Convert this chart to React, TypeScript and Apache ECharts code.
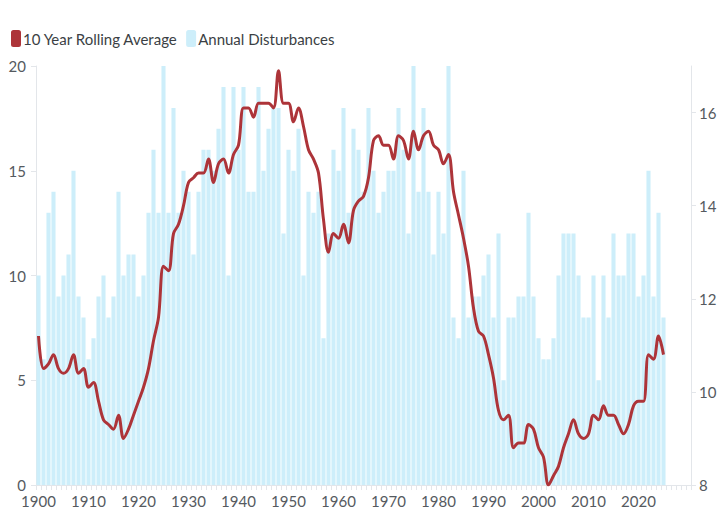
import React, { useEffect, useRef } from "react";
import * as echarts from "echarts";

const startYear = 1900;
const endYear = 2030;
const years: string[] = Array.from({ length: endYear - startYear + 1 }, (_, i) => String(startYear + i));
const lastLabelledYear = "2020";

// Annual Disturbances, 1900–2025
const annualDisturbances: number[] = [
  10, 6, 13, 14, 9, 10, 11, 15, 9, 8,
  6, 7, 9, 10, 8, 9, 14, 10, 11, 11,
  9, 10, 13, 16, 13, 20, 13, 18, 13, 15,
  14, 11, 14, 16, 16, 15, 17, 19, 10, 19,
  16, 19, 14, 14, 19, 15, 17, 18, 18, 12,
  16, 15, 17, 10, 14, 13, 14, 7, 12, 16,
  15, 18, 13, 17, 16, 14, 18, 15, 13, 14,
  15, 15, 18, 16, 12, 20, 14, 18, 14, 11,
  14, 12, 20, 8, 7, 15, 8, 9, 9, 10,
  11, 8, 12, 5, 8, 8, 9, 9, 13, 9,
  7, 6, 6, 7, 10, 12, 12, 12, 10, 8,
  8, 10, 5, 10, 8, 12, 10, 10, 12, 12,
  9, 10, 15, 9, 13, 8,
];

// 10 Year Rolling Average, 1900–2025 (right axis)
const rollingAverage: number[] = [
  11.2, 10.5, 10.6, 10.8, 10.5, 10.4, 10.5, 10.8, 10.4, 10.5,
  10.1, 10.2, 9.8, 9.4, 9.3, 9.2, 9.5, 9.0, 9.2, 9.5,
  9.8, 10.1, 10.5, 11.1, 11.6, 12.7, 12.6, 13.4, 13.6, 14.0,
  14.5, 14.6, 14.7, 14.7, 15.0, 14.5, 14.9, 15.0, 14.7, 15.1,
  15.3, 16.1, 16.1, 15.9, 16.2, 16.2, 16.2, 16.1, 16.9, 16.2,
  16.2, 15.8, 16.1, 15.7, 15.2, 15.0, 14.7, 13.7, 13.0, 13.4,
  13.3, 13.6, 13.2, 13.9, 14.1, 14.2, 14.6, 15.4, 15.5, 15.3,
  15.3, 15.0, 15.5, 15.4, 15.0, 15.6, 15.2, 15.5, 15.6, 15.3,
  15.2, 14.9, 15.1, 14.3, 13.8, 13.3, 12.7, 11.8, 11.3, 11.2,
  10.8, 10.3, 9.6, 9.4, 9.5, 8.8, 8.9, 8.9, 9.3, 9.2,
  8.8, 8.6, 8.0, 8.2, 8.4, 8.8, 9.1, 9.4, 9.1, 9.0,
  9.1, 9.5, 9.4, 9.7, 9.5, 9.5, 9.3, 9.1, 9.3, 9.7,
  9.8, 9.8, 10.8, 10.7, 11.2, 10.8,
];

const leftTicks = { min: 0, max: 20, interval: 5 };
const rightTicks = { min: 8, max: 17, interval: 2 };

export default function App() {
  const ref = useRef<HTMLDivElement>(null);

  useEffect(() => {
    document.body.style.margin = "0";
    if (!ref.current) return;
    const chart = echarts.init(ref.current, undefined, { renderer: "svg" });
    const font = "Lato, 'Noto Sans', sans-serif";
    const axisGrey = "#e3e6ea";
    const labelColor = "#555a60";
    chart.setOption({
      animation: false,
      textStyle: { fontFamily: font },
      legend: {
        left: 6,
        top: 25,
        itemWidth: 10,
        itemHeight: 17,
        itemGap: 8,
        icon: "roundRect",
        textStyle: { fontSize: 15, color: "#3b3f44", fontFamily: font, padding: [0, 0, 0, -3] },
        data: ["10 Year Rolling Average", "Annual Disturbances"],
      },
      grid: { left: 36, right: 37, top: 66, bottom: 45 },
      xAxis: {
        type: "category",
        data: years,
        boundaryGap: true,
        axisLine: { show: true, lineStyle: { color: axisGrey } },
        axisTick: { show: true, interval: 0, length: 5, lineStyle: { color: axisGrey } },
        axisLabel: {
          interval: (index: number, value: string) => index % 10 === 0 && Number(value) <= Number(lastLabelledYear),
          color: labelColor,
          fontSize: 15,
          margin: 8,
          fontFamily: font,
        },
        splitLine: { show: false },
      },
      yAxis: [
        {
          type: "value",
          min: leftTicks.min,
          max: leftTicks.max,
          interval: leftTicks.interval,
          axisLine: { show: true, lineStyle: { color: axisGrey } },
          axisTick: { show: true, length: 5, lineStyle: { color: axisGrey } },
          axisLabel: { color: labelColor, fontSize: 15, margin: 10, fontFamily: font },
          splitLine: { show: false },
        },
        {
          type: "value",
          min: rightTicks.min,
          max: rightTicks.max,
          interval: rightTicks.interval,
          position: "right",
          axisLine: { show: true, lineStyle: { color: axisGrey } },
          axisTick: { show: true, length: 5, lineStyle: { color: axisGrey } },
          axisLabel: { color: labelColor, fontSize: 15, margin: 8, showMaxLabel: false, fontFamily: font },
          splitLine: { show: false },
        },
      ],
      series: [
        {
          name: "Annual Disturbances",
          type: "bar",
          data: annualDisturbances,
          yAxisIndex: 0,
          barCategoryGap: "18%",
          itemStyle: { color: "#cdeefa" },
          z: 1,
        },
        {
          name: "10 Year Rolling Average",
          type: "line",
          data: rollingAverage,
          yAxisIndex: 1,
          smooth: 0.35,
          symbol: "none",
          lineStyle: { color: "#ad3439", width: 3 },
          itemStyle: { color: "#ad3439" },
          z: 3,
        },
      ],
    });
    return () => chart.dispose();
  }, []);

  return <div ref={ref} style={{ width: 728, height: 530 }} />;
}
